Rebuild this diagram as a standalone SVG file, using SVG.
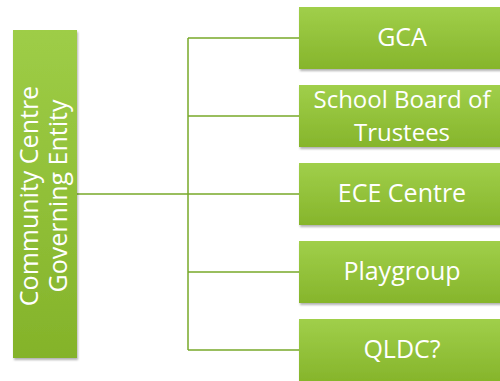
<svg xmlns="http://www.w3.org/2000/svg" width="500" height="381" viewBox="0 0 500 381">
<defs>
<linearGradient id="g" x1="0" y1="0" x2="0" y2="1">
<stop offset="0" stop-color="#a0cf4a"/>
<stop offset="1" stop-color="#86b52b"/>
</linearGradient>
<linearGradient id="gl" x1="0" y1="0" x2="0" y2="1">
<stop offset="0" stop-color="#9ecd47"/>
<stop offset="1" stop-color="#84b32a"/>
</linearGradient>
<filter id="sh" x="-10%" y="-10%" width="130%" height="130%">
<feDropShadow dx="1" dy="2" stdDeviation="1.2" flood-color="#000" flood-opacity="0.3"/>
</filter>
</defs>
<style>
.box{fill:url(#g);filter:url(#sh)}
.t{font-family:"Open Sans","DejaVu Sans",sans-serif;font-size:25px;fill:#ffffff;text-anchor:middle}
.s{font-size:24px}
.c{stroke:#78a92a;stroke-width:1.5;fill:none}
</style>
<rect width="500" height="381" fill="#ffffff"/>
<g id="connectors">
<path class="c" d="M77 194 H188 M188 38 V350 M188 38 H300 M188 116 H300 M188 194 H300 M188 272 H300 M188 350 H300"/>
</g>
<g id="root">
<rect class="box" style="fill:url(#gl)" x="13" y="30" width="64" height="328"/>
<text class="t" transform="translate(0,196) rotate(-90)"><tspan x="0" y="38">Community Centre</tspan><tspan x="0" y="67">Governing Entity</tspan></text>
</g>
<g id="gca">
<rect class="box" x="299" y="7" width="206" height="62"/>
<text class="t" x="402" y="46">GCA</text>
</g>
<g id="school">
<rect class="box" x="299" y="85" width="206" height="62"/>
<text class="t s"><tspan x="402" y="107.5">School Board of</tspan><tspan x="402" y="140.5">Trustees</tspan></text>
</g>
<g id="ece">
<rect class="box" x="299" y="163" width="206" height="62"/>
<text class="t" x="402" y="202">ECE Centre</text>
</g>
<g id="playgroup">
<rect class="box" x="299" y="241" width="206" height="62"/>
<text class="t" x="402" y="280">Playgroup</text>
</g>
<g id="qldc">
<rect class="box" x="299" y="319" width="206" height="62"/>
<text class="t" x="402" y="358">QLDC?</text>
</g>
</svg>
